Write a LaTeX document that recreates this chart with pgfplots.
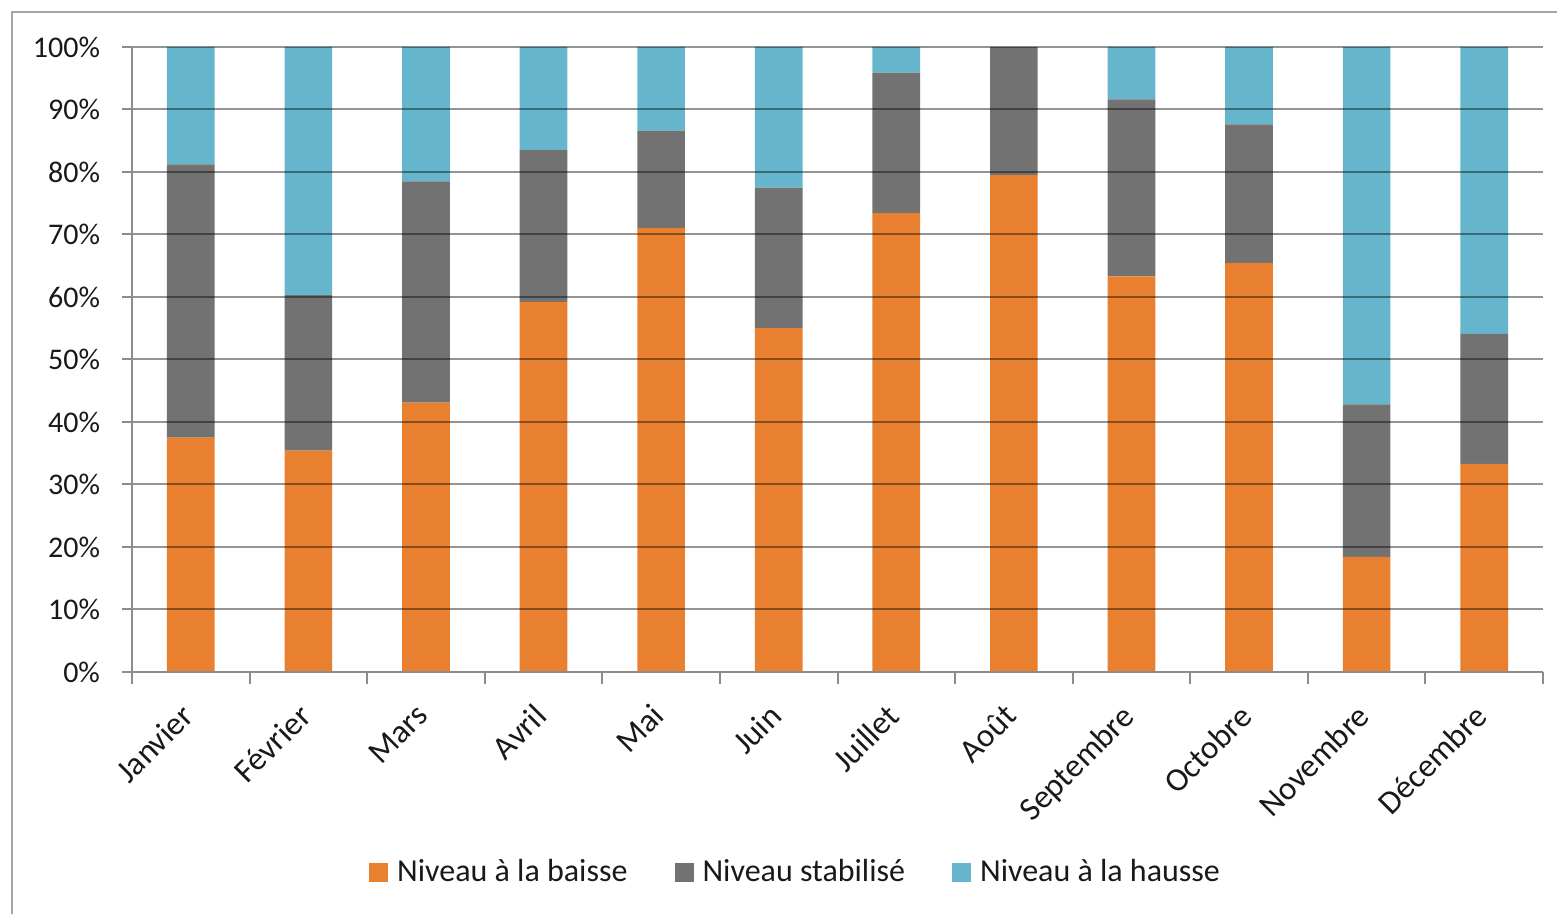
\documentclass[border=0pt]{standalone}
\usepackage{pgfplots}
\pgfplotsset{compat=1.18}
\usepackage{pgfplotstable}
\usepackage{fontspec}
\setmainfont{Carlito}

\definecolor{baisse}{RGB}{232,128,48}
\definecolor{stable}{RGB}{114,114,114}
\definecolor{hausse}{RGB}{101,182,205}
\definecolor{axisgray}{RGB}{140,140,140}
\definecolor{framegray}{RGB}{165,165,165}
\definecolor{textcol}{RGB}{25,25,25}

% Part des relevés par mois (%), niveaux en baisse / stables / en hausse
\pgfplotstableread{
mois baisse stable hausse
0  37.5 43.7 18.8
1  35.4 24.9 39.7
2  43.1 35.4 21.5
3  59.2 24.3 16.5
4  71.0 15.6 13.4
5  55.0 22.5 22.5
6  73.4 22.5  4.1
7  79.5 20.5  0.0
8  63.3 28.3  8.4
9  65.4 22.2 12.4
10 18.4 24.4 57.2
11 33.3 20.8 45.9
}\niveaux

\begin{document}
\begin{tikzpicture}
\useasboundingbox (0pt,0pt) rectangle (778.5pt,457pt);
\draw[framegray, line width=1pt] (6pt,-5pt) -- (6pt,451pt) -- (790pt,451pt);
\begin{axis}[
  at={(66pt,121pt)}, anchor=south west,
  width=705.5pt, height=312.5pt, scale only axis,
  ybar stacked, bar width=0.405,
  xmin=-0.5, xmax=11.5, ymin=0, ymax=100,
  axis x line*=bottom, axis y line*=left,
  axis line style={axisgray, line width=1pt, -},
  axis on top,
  tick align=outside,
  xtick={0,...,11},
  xticklabels={Janvier,Février,Mars,Avril,Mai,Juin,Juillet,Août,Septembre,Octobre,Novembre,Décembre},
  major x tick style={draw=none},
  minor xtick={-0.5,0.5,...,11.5},
  minor tick length=6pt,
  minor x tick style={axisgray, line width=1pt},
  ytick={0,10,...,100},
  major tick length=5pt,
  major y tick style={axisgray, line width=1pt},
  yticklabel={\pgfmathprintnumber[assume math mode=true]{\tick}\%},
  ymajorgrids,
  major grid style={black, opacity=0.42, line width=1pt},
  ticklabel style={text=textcol},
  yticklabel style={font=\fontsize{15}{18}\selectfont, xshift=-7.5pt},
  xticklabel style={font=\fontsize{16.5}{19}\selectfont, rotate=45, anchor=north east,
    inner sep=2pt, xshift=-9pt, yshift=-1pt},
  legend style={at={(0.471,-0.32)}, anchor=center, draw=none, fill=none,
    legend columns=-1, font=\fontsize{16}{19}\selectfont, text=textcol,
    /tikz/every even column/.append style={column sep=21.5pt}},
  legend image code/.code={\fill[#1] (0pt,-4.75pt) rectangle (9.5pt,4.75pt);
    \path (12pt,0pt);},
]
\addplot[fill=baisse, draw=none] table[x=mois, y=baisse] {\niveaux};
\addplot[fill=stable, draw=none] table[x=mois, y=stable] {\niveaux};
\addplot[fill=hausse, draw=none] table[x=mois, y=hausse] {\niveaux};
\legend{Niveau à la baisse, Niveau stabilisé, Niveau à la hausse}
\end{axis}
\end{tikzpicture}
\end{document}
